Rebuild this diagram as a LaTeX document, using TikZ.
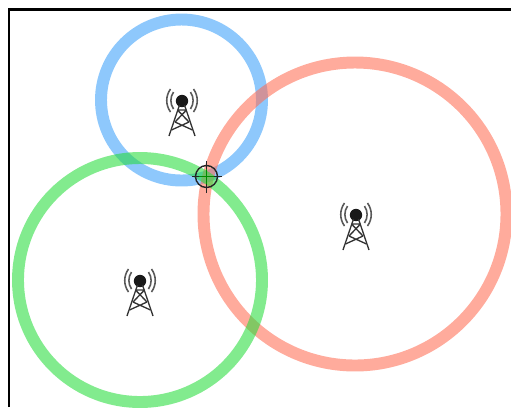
\documentclass[tikz,border=0pt]{standalone}
\definecolor{bluering}{RGB}{60,160,250}
\definecolor{redring}{RGB}{255,110,85}
\definecolor{greenring}{RGB}{40,220,60}
\tikzset{
  ring/.style={line width=6.8pt,opacity=0.58},
  towerline/.style={line width=0.75pt,black!80},
  waveline/.style={line width=0.9pt,black!65},
  pics/tower/.style={code={
    \fill[black!90] (0,0) circle (6.2);
    \draw[towerline] (-2.5,4) -- (-13,35) (2.5,4) -- (13,35);
    \draw[towerline] (-4.5,9) -- (4.5,9) (-4.5,9) -- (7,21) (4.5,9) -- (-7,21) (-7,21) -- (10.5,29) (7,21) -- (-10.5,29);
    \draw[waveline] (-8.5,-9) .. controls (-12,-4) and (-12,3) .. (-8.5,8) (8.5,-9) .. controls (12,-4) and (12,3) .. (8.5,8);
    \draw[waveline] (-11.5,-12) .. controls (-16.5,-5) and (-16.5,4) .. (-11.5,11) (11.5,-12) .. controls (16.5,-5) and (16.5,4) .. (11.5,11);
  }}
}
\begin{document}
\begin{tikzpicture}[x=0.02cm,y=-0.02cm]
\useasboundingbox (0,0) rectangle (511,407);
\draw[line width=1.3pt] (9,407) -- (9,9.5) -- (511,9.5);
% coverage rings
\draw[ring,bluering] (181.5,100) circle (80.5);
\draw[ring,redring] (355,214) circle (151.5);
\draw[ring,greenring] (140,280) circle (122);
% base stations
\pic at (182,101) {tower};
\pic at (356,215) {tower};
\pic at (140,281) {tower};
% position fix
\draw[line width=0.9pt,green!55!black] (199,176.5) -- (214,176.5) (206.5,169) -- (206.5,184);
\draw[line width=0.8pt,black!85] (206.5,176.5) circle (11);
\draw[line width=0.8pt,black!85] (192,176.5) -- (199,176.5) (214,176.5) -- (222,176.5) (206.5,161) -- (206.5,169) (206.5,184) -- (206.5,193);
\end{tikzpicture}
\end{document}
